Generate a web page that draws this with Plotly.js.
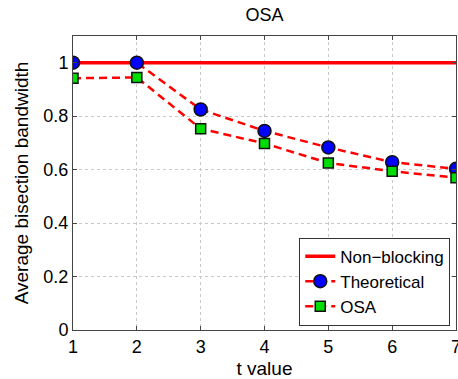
<!DOCTYPE html>
<html><head><meta charset="utf-8">
<script src="https://cdn.plot.ly/plotly-3.0.1.min.js"></script>
<style>html,body{margin:0;padding:0;background:#fff}#chart{width:458px;height:379px}</style>
</head><body><div id="chart"></div>
<script>
const tValues = [1, 2, 3, 4, 5, 6, 7];
const nonBlocking = [1, 1, 1, 1, 1, 1, 1];
const theoretical = [1, 1, 0.825, 0.745, 0.683, 0.628, 0.603];
const osa = [0.942, 0.945, 0.753, 0.698, 0.625, 0.594, 0.57];
const seriesNames = ["Non\u2212blocking", "Theoretical", "OSA"];
const yTicks = [0, 0.2, 0.4, 0.6, 0.8, 1];
const yTickText = ["0", "0.2", "0.4", "0.6", "0.8", "1"];

const traces = [
  {x: tValues, y: nonBlocking, name: seriesNames[0], mode: "lines",
   line: {color: "#ff0000", width: 3.5}},
  {x: tValues, y: theoretical, name: seriesNames[1], mode: "lines+markers",
   line: {color: "#ff0000", width: 2.5, dash: "8px,5px"},
   marker: {symbol: "circle", size: 13, color: "#0000ff", line: {color: "#111", width: 1.5}}},
  {x: tValues, y: osa, name: seriesNames[2], mode: "lines+markers",
   line: {color: "#ff0000", width: 2.5, dash: "8px,5px"},
   marker: {symbol: "square", size: 10, color: "#00dd00", line: {color: "#111", width: 1.5}}}
];

const fam = "Liberation Sans";
const layout = {
  width: 458, height: 379,
  margin: {l: 73, r: 2, t: 36, b: 49},
  paper_bgcolor: "#fff", plot_bgcolor: "#fff",
  font: {family: fam, size: 18, color: "#000"},
  showlegend: true,
  title: {text: "OSA", x: 0.5, xanchor: "center", xref: "paper", y: 0.96, yanchor: "middle",
    font: {family: fam, size: 18, color: "#000"}},
  xaxis: {range: [1, 7], tickvals: tValues, ticks: "inside", ticklen: 4, tickcolor: "#444",
    tickfont: {family: fam, size: 18, color: "#000"}, ticklabeloverflow: "allow",
    showline: true, linecolor: "#444", linewidth: 1, mirror: "ticks",
    showgrid: true, gridcolor: "#c8c8c8", griddash: "dot", gridwidth: 1, zeroline: false,
    title: {text: "t value", standoff: 6, font: {family: fam, size: 19, color: "#000"}}},
  yaxis: {range: [0, 1.1], tickvals: yTicks, ticktext: yTickText,
    ticks: "inside", ticklen: 4, tickcolor: "#444",
    tickfont: {family: fam, size: 18, color: "#000"},
    showline: true, linecolor: "#444", linewidth: 1, mirror: "ticks",
    showgrid: true, gridcolor: "#c8c8c8", griddash: "dot", gridwidth: 1, zeroline: false,
    title: {text: "Average bisection bandwidth", standoff: 9, font: {family: fam, size: 19, color: "#000"}}},
  legend: {x: 0.985, xanchor: "right", y: 0.015, yanchor: "bottom",
    bgcolor: "#fff", bordercolor: "#333", borderwidth: 1,
    font: {family: fam, size: 17, color: "#000"}, tracegroupgap: 0, itemwidth: 30}
};
Plotly.newPlot("chart", traces, layout, {displayModeBar: false, staticPlot: true});
</script>
</body></html>
